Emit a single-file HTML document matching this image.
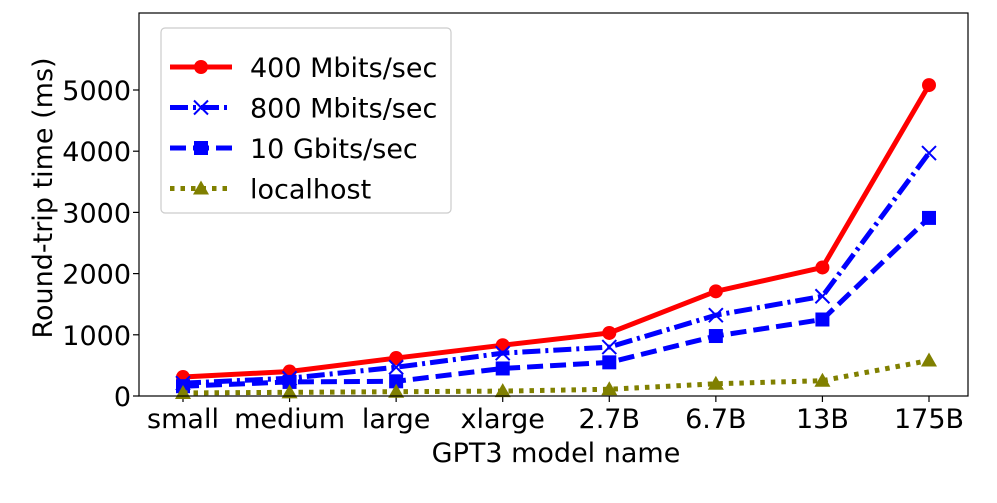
<!DOCTYPE html>
<html><head><meta charset="utf-8"><style>
html,body{margin:0;padding:0;background:#fff;}
svg text{font-family:"DejaVu Sans","Liberation Sans",sans-serif;fill:#000;}
</style></head><body>
<svg id="chart" width="997" height="498" viewBox="0 0 997 498" xmlns="http://www.w3.org/2000/svg">
<rect x="0" y="0" width="997" height="498" fill="#fff"/>
<g id="plot"></g>
</svg>
<script>
const categories = ["small","medium","large","xlarge","2.7B","6.7B","13B","175B"];
const s400 = [310,400,620,830,1030,1710,2100,5080];
const s800 = [210,290,470,700,800,1320,1630,3970];
const s10g = [160,230,240,450,550,980,1250,2910];
const sLocal = [50,60,70,80,110,200,250,580];
const yTicks = [0,1000,2000,3000,4000,5000];
const seriesNames = ["400 Mbits/sec","800 Mbits/sec","10 Gbits/sec","localhost"];

const NS="http://www.w3.org/2000/svg";
const g=document.getElementById('plot');
const L=139,R=968,T=13,B=396;
const FS=27;
function x(i){return 183+i*(929-183)/(categories.length-1);}
function y(v){return B-v*(B-90)/5000;}
function mk(tag,attrs,parent){const e=document.createElementNS(NS,tag);for(const k in attrs)e.setAttribute(k,attrs[k]);(parent||g).appendChild(e);return e;}

yTicks.forEach(v=>{
  const t=mk('line',{x1:L-6,x2:L,y1:y(v),y2:y(v),stroke:'#000','stroke-width':1.2});
  
  
  const tx=mk('text',{x:L-8,y:y(v)+10,'text-anchor':'end','font-size':FS});
  tx.textContent=v;
  
  
});
categories.forEach((c,i)=>{
  const t=mk('line',{x1:x(i),x2:x(i),y1:B,y2:B+6,stroke:'#000','stroke-width':1.2});
  
  
  const tx=mk('text',{x:x(i),y:B+32,'text-anchor':'middle','font-size':FS});
  tx.textContent=c;
  
  
});
const xt=mk('text',{x:556,y:462,'text-anchor':'middle','font-size':FS});
xt.textContent='GPT3 model name';


const yt=mk('text',{x:0,y:0,'text-anchor':'middle','font-size':FS,transform:`translate(52,198) rotate(-90)`});
yt.textContent='Round-trip time (ms)';



const styles=[
 {data:s400,color:'#ff0000',dash:'',marker:'circle'},
 {data:s800,color:'#0000ff',dash:'18 5 3 5',marker:'x'},
 {data:s10g,color:'#0000ff',dash:'16 7',marker:'square'},
 {data:sLocal,color:'#808000',dash:'4.5 6',marker:'tri'}
];
function marker(type,cx,cy,color,parent){
  let e;
  if(type==='circle')e=mk('circle',{cx,cy,r:7,fill:color},parent);
  else if(type==='square')e=mk('rect',{x:cx-7,y:cy-7,width:14,height:14,fill:color},parent);
  else if(type==='tri')e=mk('polygon',{points:`${cx},${cy-8} ${cx-8},${cy+6} ${cx+8},${cy+6}`,fill:color},parent);
  else e=mk('path',{d:`M${cx-7},${cy-7}L${cx+7},${cy+7}M${cx-7},${cy+7}L${cx+7},${cy-7}`,stroke:color,'stroke-width':2,fill:'none'},parent);
  return e;
}
styles.forEach((s,si)=>{
  const sg=mk('g',{});
  
  
  const pts=s.data.map((v,i)=>x(i)+','+y(v)).join(' ');
  const pl=mk('polyline',{points:pts,fill:'none',stroke:s.color,'stroke-width':5,'stroke-dasharray':s.dash},sg);
  
  
  s.data.forEach((v,i)=>{
    const m=marker(s.marker,x(i),y(v),s.color,sg);
    
    
  });
});
const frame=mk('rect',{x:L,y:T,width:R-L,height:B-T,fill:'none',stroke:'#000','stroke-width':1.2});



const lg=mk('g',{});


mk('rect',{x:161,y:28,width:290,height:185,rx:4,fill:'#fff',stroke:'#ccc','stroke-width':1.2},lg);
styles.forEach((s,si)=>{
  const ly=67+si*40.5;
  const e=mk('g',{},lg);
  
  
  mk('line',{x1:170,x2:232,y1:ly,y2:ly,stroke:s.color,'stroke-width':5,'stroke-dasharray':s.dash},e);
  marker(s.marker,201,ly,s.color,e);
  const t=mk('text',{x:250,y:ly+10,'font-size':FS},e);
  t.textContent=seriesNames[si];
});
</script>
</body></html>
